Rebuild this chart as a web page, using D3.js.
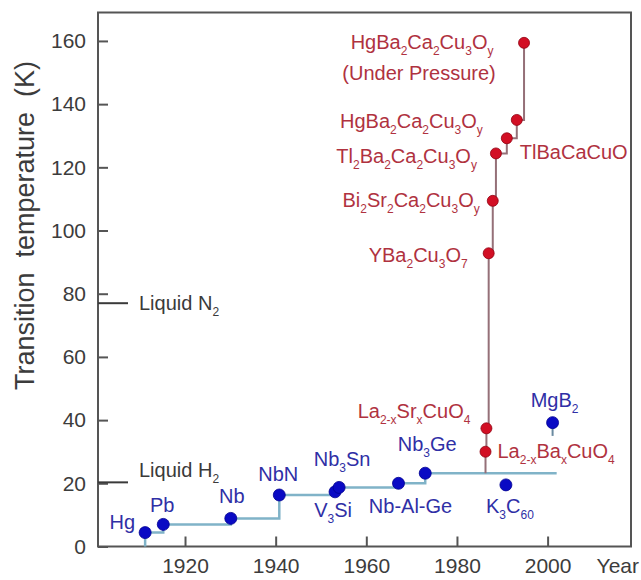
<!DOCTYPE html>
<html>
<head>
<meta charset="utf-8">
<script src="https://cdn.jsdelivr.net/npm/d3@7"></script>
<style>
  html, body { margin: 0; padding: 0; background: #fff; }
  svg { display: block; font-family: "Liberation Sans", Arial, sans-serif; }
</style>
</head>
<body>
<svg id="chart" width="641" height="580"></svg>
<script>
// ---------- data ----------
const xTicks = [1920, 1940, 1960, 1980, 2000];
const yTicks = [0, 20, 40, 60, 80, 100, 120, 140, 160];

// conventional (blue) superconductors
const blueNames = ["Hg", "Pb", "Nb", "NbN", "V_{3}Si", "Nb_{3}Sn", "Nb-Al-Ge", "Nb_{3}Ge", "K_{3}C_{60}", "MgB_{2}"];
const blueYears = [1911.2, 1915.2, 1930.1, 1940.8, 1953.1, 1954.0, 1967.1, 1973.0, 1990.8, 2001.1];
const blueTc    = [4.4, 7.0, 8.9, 16.3, 17.3, 18.7, 20.0, 23.2, 19.5, 39.2];
// indices of blue points on the record step line
const blueRecord = [0, 1, 2, 3, 4, 5, 6, 7];
const blueRecordEndYear = 2002;

// cuprate (red) superconductors
const redNames = ["La_{2-x}Ba_{x}CuO_{4}", "La_{2-x}Sr_{x}CuO_{4}", "YBa_{2}Cu_{3}O_{7}", "Bi_{2}Sr_{2}Ca_{2}Cu_{3}O_{y}",
                  "Tl_{2}Ba_{2}Ca_{2}Cu_{3}O_{y}", "TlBaCaCuO", "HgBa_{2}Ca_{2}Cu_{3}O_{y}", "HgBa_{2}Ca_{2}Cu_{3}O_{y}"];
const redYears = [1986.3, 1986.5, 1987.0, 1987.9, 1988.6, 1991.0, 1993.2, 1994.8];
const redTc    = [30.0, 37.4, 92.8, 109.4, 124.4, 129.2, 135.0, 159.4];
const redNotes = ["", "", "", "", "", "", "", "(Under Pressure)"];

// MgB2 short stem
const mgStemTc = [39.2, 35.0];

// reference temperatures
const refNames = ["Liquid N_{2}", "Liquid H_{2}"];
const refTc = [77, 20.3];

// ---------- layout ----------
const W = 641, H = 580;
const plot = { left: 98, right: 631, top: 12.5, bottom: 546.5 };
const FS_TICK = 21, FS_LAB = 20, FS_SUB = 12, SUB_SHIFT = 6;
const C_AXIS = "#555", C_BLUE = "#0a0ac4", C_BLUE_TXT = "#2f2fa6", C_BLUE_LINE = "#80b3c8";
const C_RED = "#d20f24", C_RED_TXT = "#b0323f", C_RED_LINE = "#957078", C_REF = "#3a3a3a";

// label placement (px offsets from point)
const blueLabelPos = [
  { dx: -10, dy: -4,  a: "end" },
  { dx: -1,  dy: -12, a: "middle" },
  { dx: 1,   dy: -15, a: "middle" },
  { dx: -1,  dy: -14, a: "middle" },
  { dx: -2,  dy: 25,  a: "middle" },
  { dx: 3,   dy: -21, a: "middle" },
  { dx: 12,  dy: 30,  a: "middle" },
  { dx: 2,   dy: -22, a: "middle" },
  { dx: 4,   dy: 28,  a: "middle" },
  { dx: 2,   dy: -16, a: "middle" }
];
const redLabelPos = [
  { dx: 12,  dy: 6,  a: "start" },
  { dx: -16, dy: -10, a: "end" },
  { dx: -21, dy: 9,  a: "end" },
  { dx: -13, dy: 6,  a: "end" },
  { dx: -19, dy: 10, a: "end" },
  { dx: 13,  dy: 21, a: "start" },
  { dx: -34, dy: 8,  a: "end" },
  { dx: -102, dy: 6, a: "middle" }
];
const notePos = { dx: -105, dy: 37 };

const x = d3.scaleLinear().domain([1900.8, 2018.4]).range([plot.left, plot.right]);
const y = d3.scaleLinear().domain([0, 169]).range([plot.bottom, plot.top]);

const svg = d3.select("#chart");

// axes
const gx = svg.append("g").attr("transform", `translate(0,${plot.bottom})`)
  .call(d3.axisBottom(x).tickValues(xTicks).tickFormat(d3.format("d")).tickSize(-10).tickPadding(12));
const gy = svg.append("g").attr("transform", `translate(${plot.left},0)`)
  .call(d3.axisLeft(y).tickValues(yTicks).tickSize(-10).tickPadding(12));
[gx, gy].forEach(g => {
  g.select(".domain").remove();
  g.selectAll(".tick line").attr("stroke", C_AXIS).attr("stroke-width", 2);
  g.selectAll(".tick text").attr("fill", "#3c3c3c").style("font-size", FS_TICK + "px");
});

// frame
svg.append("rect")
  .attr("x", plot.left).attr("y", plot.top)
  .attr("width", plot.right - plot.left).attr("height", plot.bottom - plot.top)
  .attr("fill", "none").attr("stroke", C_AXIS).attr("stroke-width", 2);

// Year label
svg.append("text").attr("x", 639).attr("y", plot.bottom + 12).attr("dy", "0.71em")
  .attr("text-anchor", "end").attr("fill", "#3c3c3c").style("font-size", FS_TICK + "px").text("Year");

// y title
svg.append("text")
  .attr("transform", `translate(34,${(plot.top + plot.bottom) / 2 - 54}) rotate(-90)`)
  .attr("text-anchor", "middle").attr("fill", "#3c3c3c")
  .style("font-size", "27px").style("white-space", "pre")
  .text("Transition  temperature  (K)");

// rich text helper
function richText(sel, str, fs, sub, shift) {
  const parts = str.split(/(_\{[^}]*\})/).filter(s => s.length);
  let shifted = false;
  parts.forEach(p => {
    const m = p.match(/^_\{([^}]*)\}$/);
    if (m) {
      sel.append("tspan").attr("dy", shifted ? 0 : shift).style("font-size", sub + "px").text(m[1]);
      shifted = true;
    } else {
      sel.append("tspan").attr("dy", shifted ? -shift : 0).style("font-size", fs + "px").text(p);
      shifted = false;
    }
  });
}

// reference lines
refTc.forEach((t, i) => {
  svg.append("line").attr("x1", plot.left).attr("x2", plot.left + 30)
    .attr("y1", y(t)).attr("y2", y(t)).attr("stroke", C_REF).attr("stroke-width", 2);
  const tx = svg.append("text").attr("x", plot.left + 41)
    .attr("y", y(t) + (i === 0 ? 7 : -5)).attr("fill", C_REF);
  richText(tx, refNames[i], FS_LAB, FS_SUB, SUB_SHIFT);
});

// blue record step line
const bluePts = [[blueYears[0], 0]].concat(blueRecord.map(i => [blueYears[i], blueTc[i]]))
  .concat([[blueRecordEndYear, blueTc[blueRecord[blueRecord.length - 1]]]]);
const stepLine = d3.line().x(d => x(d[0])).y(d => y(d[1])).curve(d3.curveStepAfter);
svg.append("path").attr("d", stepLine(bluePts)).attr("fill", "none")
  .attr("stroke", C_BLUE_LINE).attr("stroke-width", 2.5);

// MgB2 stem
svg.append("line").attr("x1", x(blueYears[9])).attr("x2", x(blueYears[9]))
  .attr("y1", y(mgStemTc[0])).attr("y2", y(mgStemTc[1]))
  .attr("stroke", "#6a8aa0").attr("stroke-width", 2);

// red step line
const redPts = [[redYears[0], blueTc[blueRecord[blueRecord.length - 1]]]]
  .concat(redYears.map((yr, i) => [yr, redTc[i]]));
svg.append("path").attr("d", stepLine(redPts)).attr("fill", "none")
  .attr("stroke", C_RED_LINE).attr("stroke-width", 2);

// blue dots
svg.append("g").selectAll("circle").data(blueYears).join("circle")
  .attr("cx", d => x(d)).attr("cy", (d, i) => y(blueTc[i])).attr("r", 6)
  .attr("fill", C_BLUE).attr("stroke", "#000090").attr("stroke-width", 0.8);

// red dots
svg.append("g").selectAll("circle").data(redYears).join("circle")
  .attr("cx", d => x(d)).attr("cy", (d, i) => y(redTc[i])).attr("r", 5.5)
  .attr("fill", C_RED).attr("stroke", "#900010").attr("stroke-width", 0.8);

// blue labels
blueNames.forEach((n, i) => {
  const p = blueLabelPos[i];
  const t = svg.append("text").attr("x", x(blueYears[i]) + p.dx).attr("y", y(blueTc[i]) + p.dy)
    .attr("text-anchor", p.a).attr("fill", C_BLUE_TXT);
  richText(t, n, FS_LAB, FS_SUB, SUB_SHIFT);
});

// red labels
redNames.forEach((n, i) => {
  const p = redLabelPos[i];
  const t = svg.append("text").attr("x", x(redYears[i]) + p.dx).attr("y", y(redTc[i]) + p.dy)
    .attr("text-anchor", p.a).attr("fill", C_RED_TXT);
  richText(t, n, FS_LAB, FS_SUB, SUB_SHIFT);
  if (redNotes[i]) {
    svg.append("text").attr("x", x(redYears[i]) + notePos.dx).attr("y", y(redTc[i]) + notePos.dy)
      .attr("text-anchor", "middle").attr("fill", C_RED_TXT).style("font-size", FS_LAB + "px")
      .text(redNotes[i]);
  }
});
</script>
</body>
</html>
